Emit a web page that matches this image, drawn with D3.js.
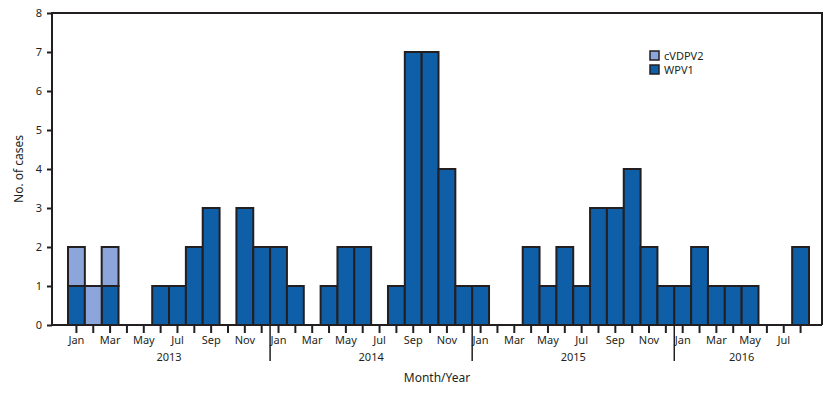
<!DOCTYPE html>
<html>
<head>
<meta charset="utf-8">
<script src="https://cdn.jsdelivr.net/npm/d3@7"></script>
<style>
body { margin: 0; background: #fff; }
text { font-family: "Noto Sans", "Open Sans", sans-serif; fill: #231f20; }
</style>
</head>
<body>
<div id="chart"></div>
<script>
// months Jan 2013 .. Aug 2016
var years = [2013, 2014, 2015, 2016];
var monthNames = ["Jan","Feb","Mar","Apr","May","Jun","Jul","Aug","Sep","Oct","Nov","Dec"];
var wpv1 = [1,0,1,0,0,1,1,2,3,0,3,2,
            2,1,0,1,2,2,0,1,7,7,4,1,
            1,0,0,2,1,2,1,3,3,4,2,1,
            1,2,1,1,1,0,0,2];
var cvdpv2 = [1,1,1,0,0,0,0,0,0,0,0,0,
              0,0,0,0,0,0,0,0,0,0,0,0,
              0,0,0,0,0,0,0,0,0,0,0,0,
              0,0,0,0,0,0,0,0];
var yTicks = [0,1,2,3,4,5,6,7,8];
var seriesNames = ["cVDPV2", "WPV1"];
var colors = {WPV1: "#0f5fa8", cVDPV2: "#8ca6dc"};

var months = [];
years.forEach(function(y){
	monthNames.forEach(function(m, i){
		if (months.length < wpv1.length) months.push({key: y + "-" + i, year: y, m: i, name: m});
	});
});
var rows = months.map(function(d, i){
	return {key: d.key, WPV1: wpv1[i], cVDPV2: cvdpv2[i]};
});

var width = 832, height = 394;
var plotLeft = 52, plotRight = 822, plotTop = 13, plotBottom = 325;

var svg = d3.select("#chart").append("svg")
	.attr("width", width).attr("height", height);

var x = d3.scaleBand()
	.domain(months.map(function(d){ return d.key; }))
	.range([68, 809])
	.padding(0);

var y = d3.scaleLinear().domain([0, 8]).range([plotBottom, plotTop]);

var stack = d3.stack().keys(["WPV1", "cVDPV2"]);
var layers = stack(rows);

svg.selectAll("g.layer")
	.data(layers)
	.enter().append("g")
	.attr("class", "layer")
	.attr("fill", function(d){ return colors[d.key]; })
	.selectAll("rect")
	.data(function(d){ return d.filter(function(s){ return s[1] > s[0]; }); })
	.enter().append("rect")
	.attr("x", function(d){ return x(d.data.key); })
	.attr("y", function(d){ return y(d[1]); })
	.attr("width", x.bandwidth())
	.attr("height", function(d){ return y(d[0]) - y(d[1]); })
	.attr("stroke", "#231f20")
	.attr("stroke-width", 2);

// frame
svg.append("path")
	.attr("d", "M" + plotLeft + "," + plotBottom + "V" + plotTop + "H" + plotRight + "V" + plotBottom)
	.attr("fill", "none").attr("stroke", "#231f20").attr("stroke-width", 2);

// y axis
var yAxis = svg.append("g")
	.attr("transform", "translate(" + plotLeft + ",0)")
	.call(d3.axisLeft(y).tickValues(yTicks).tickSize(5).tickPadding(5));
yAxis.select(".domain").remove();
yAxis.selectAll("line").attr("stroke", "#231f20").attr("stroke-width", 2);
yAxis.selectAll("text").style("font-size", "11px").attr("fill", "#231f20");

// x axis
var xAxis = svg.append("g")
	.attr("transform", "translate(0," + plotBottom + ")")
	.call(d3.axisBottom(x).tickSize(8).tickPadding(3)
		.tickFormat(function(k, i){ return months[i].m % 2 === 0 ? months[i].name : ""; }));
xAxis.select(".domain").attr("d", "M" + plotLeft + ",0H" + plotRight).attr("stroke", "#231f20").attr("stroke-width", 2);
xAxis.selectAll("line").attr("stroke", "#231f20").attr("stroke-width", 2);
xAxis.selectAll("text").style("font-size", "11px").attr("fill", "#231f20");

// year separators and labels
years.forEach(function(yr, i){
	var first = months.filter(function(d){ return d.year === yr; });
	var x0 = x(first[0].key), x1 = x(first[first.length - 1].key) + x.bandwidth();
	if (i > 0) {
		svg.append("line")
			.attr("x1", x0).attr("x2", x0)
			.attr("y1", plotBottom).attr("y2", 361)
			.attr("stroke", "#231f20").attr("stroke-width", 1.5);
	}
	svg.append("text")
		.attr("x", (x0 + x1) / 2).attr("y", 361)
		.attr("text-anchor", "middle")
		.style("font-size", "11px")
		.text(yr);
});

svg.append("text")
	.attr("x", (plotLeft + plotRight) / 2).attr("y", 382)
	.attr("text-anchor", "middle")
	.style("font-size", "12px")
	.text("Month/Year");

svg.append("text")
	.attr("transform", "translate(23," + ((plotTop + plotBottom) / 2) + ")rotate(-90)")
	.attr("text-anchor", "middle")
	.style("font-size", "12px")
	.text("No. of cases");

// legend
var legend = svg.append("g").attr("transform", "translate(650,51)");
seriesNames.forEach(function(s, i){
	var g = legend.append("g").attr("transform", "translate(0," + (i * 14) + ")");
	g.append("rect").attr("width", 9).attr("height", 9)
		.attr("fill", colors[s]).attr("stroke", "#231f20").attr("stroke-width", 1.5);
	g.append("text").attr("x", 14).attr("y", 8.5)
		.style("font-size", "11px").text(s);
});
</script>
</body>
</html>
